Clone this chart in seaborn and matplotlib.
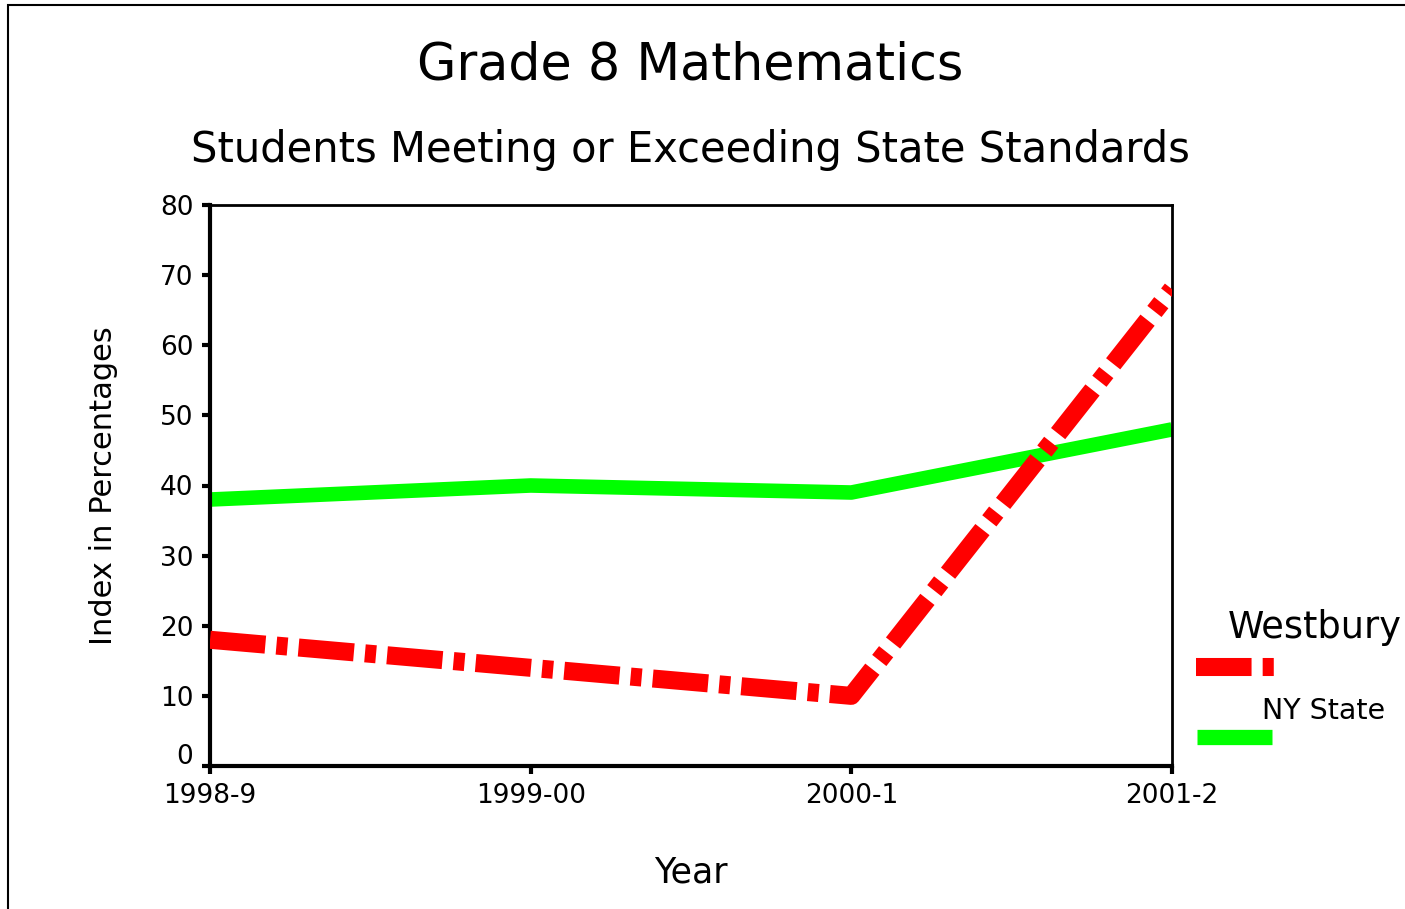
import matplotlib
matplotlib.use("Agg")
import matplotlib.pyplot as plt
import matplotlib.transforms as mtransforms
import seaborn as sns
import pandas as pd
from matplotlib.lines import Line2D
from matplotlib.patches import Rectangle

years = ["1998-9", "1999-00", "2000-1", "2001-2"]
westbury = [18, 14, 10, 68]
ny_state = [38, 40, 39, 48]
series_names = ["Westbury", "NY State"]
yticks = [0, 10, 20, 30, 40, 50, 60, 70, 80]

sns.set_theme(style="white")
plt.rcParams['font.family'] = ['DejaVu Sans']
plt.rcParams['text.color'] = 'black'
plt.rcParams['axes.labelcolor'] = 'black'
plt.rcParams['xtick.color'] = 'black'
plt.rcParams['ytick.color'] = 'black'
plt.rcParams['lines.scale_dashes'] = False

DASH = (0, (40, 8, 8, 8))

df = pd.DataFrame({
    "Year": list(range(len(years))) * 2,
    "Value": westbury + ny_state,
    "Series": [series_names[0]] * len(years) + [series_names[1]] * len(years),
})

fig = plt.figure(figsize=(14.05, 9.09), dpi=100)
ax = fig.add_axes([210/1405, 1 - 766/909, (1172-210)/1405, (766-205)/909])

sns.lineplot(data=df, x="Year", y="Value", hue="Series",
             palette={"Westbury": "#ff0000", "NY State": "#00ff00"},
             ax=ax, legend=False, estimator=None, sort=False)

for ln in ax.lines:
    c = matplotlib.colors.to_hex(ln.get_color())
    if c == "#ff0000":
        ln.set_linewidth(13)
        ln.set_linestyle(DASH)
        ln.set_dash_capstyle("butt")
        ln.set_zorder(3)
    else:
        ln.set_linewidth(10.5)
        ln.set_solid_capstyle("butt")
        ln.set_zorder(2)

ax.set_xlim(0, len(years) - 1)
ax.set_ylim(0, 80)
ax.set_xticks(range(len(years)))
ax.set_xticklabels(years)
ax.set_yticks(yticks)
ax.set_yticklabels([str(v) for v in yticks])
ax.tick_params(axis="both", direction="out", length=6, width=3, color="black",
               labelsize=19, pad=6, left=True, bottom=True)
for s in ax.spines.values():
    s.set_visible(True)
    s.set_color("black")
    s.set_linewidth(2)
ax.spines["left"].set_linewidth(3)
ax.spines["bottom"].set_linewidth(3)
ax.set_xlabel("Year", fontsize=25, labelpad=34)
ax.set_ylabel("Index in Percentages", fontsize=22, labelpad=30)

# raise the "0" label as in the reference
zero_lbl = ax.get_yticklabels()[0]
zero_lbl.set_transform(zero_lbl.get_transform() +
                       mtransforms.ScaledTranslation(0, 12/100, fig.dpi_scale_trans))

fig.text(690/1405, 1 - 65/909, "Grade 8 Mathematics", fontsize=36.5,
         ha="center", va="center")
fig.text(690/1405, 1 - 150/909, "Students Meeting or Exceeding State Standards",
         fontsize=30, ha="center", va="center")

# legend
fig.text(1228/1405, 1 - 627/909, "Westbury", fontsize=26.5, ha="left", va="center")
fig.add_artist(Line2D([1196/1405, 1274/1405], [1 - 667/909, 1 - 667/909],
                      color="#ff0000", lw=13, linestyle=DASH,
                      dash_capstyle="butt", transform=fig.transFigure))
fig.text(1262/1405, 1 - 711/909, "NY State", fontsize=20.5, ha="left", va="center")
fig.add_artist(Line2D([1197/1405, 1272/1405], [1 - 737/909, 1 - 737/909],
                      color="#00ff00", lw=11, solid_capstyle="butt",
                      transform=fig.transFigure))

# outer frame
fig.add_artist(Rectangle((8/1405, -0.1), 1.2, 1 - 5/909 + 0.1, fill=False,
                         edgecolor="black", lw=1.5, transform=fig.transFigure))

fig.savefig("out.png", dpi=100)
